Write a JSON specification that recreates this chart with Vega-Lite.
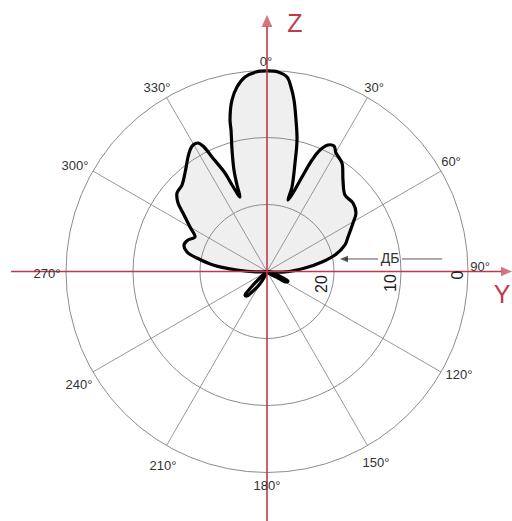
{
  "$schema": "https://vega.github.io/schema/vega-lite/v6.json",
  "width": 490,
  "height": 499,
  "autosize": "none",
  "padding": {"left": 22, "top": 22, "right": 0, "bottom": 0},
  "background": "white",
  "config": {"view": {"stroke": null}},
  "datasets": {
    "pattern": [
      {"g": "main", "i": 1, "u": 0, "v": 0},
      {"g": "main", "i": 2, "u": -1.04, "v": -0.07},
      {"g": "main", "i": 3, "u": -4.48, "v": 0.22},
      {"g": "main", "i": 4, "u": -8.06, "v": 0.97},
      {"g": "main", "i": 5, "u": -10.45, "v": 2.01},
      {"g": "main", "i": 6, "u": -11.94, "v": 2.91},
      {"g": "main", "i": 7, "u": -12.39, "v": 3.96},
      {"g": "main", "i": 8, "u": -11.79, "v": 4.7},
      {"g": "main", "i": 9, "u": -10.75, "v": 5.15},
      {"g": "main", "i": 10, "u": -11.49, "v": 6.64},
      {"g": "main", "i": 11, "u": -12.54, "v": 8.73},
      {"g": "main", "i": 12, "u": -13.28, "v": 10.22},
      {"g": "main", "i": 13, "u": -13.43, "v": 11.72},
      {"g": "main", "i": 14, "u": -12.69, "v": 12.91},
      {"g": "main", "i": 15, "u": -12.24, "v": 14.7},
      {"g": "main", "i": 16, "u": -11.79, "v": 17.09},
      {"g": "main", "i": 17, "u": -11.49, "v": 18.13},
      {"g": "main", "i": 18, "u": -11.04, "v": 18.88},
      {"g": "main", "i": 19, "u": -10.3, "v": 19.18},
      {"g": "main", "i": 20, "u": -9.55, "v": 18.73},
      {"g": "main", "i": 21, "u": -8.21, "v": 17.09},
      {"g": "main", "i": 22, "u": -6.27, "v": 14.7},
      {"g": "main", "i": 23, "u": -5.22, "v": 12.91},
      {"g": "main", "i": 24, "u": -4.03, "v": 11.12},
      {"g": "main", "i": 25, "u": -4.48, "v": 12.91},
      {"g": "main", "i": 26, "u": -4.93, "v": 15.15},
      {"g": "main", "i": 27, "u": -5.22, "v": 18.13},
      {"g": "main", "i": 28, "u": -5.37, "v": 21.12},
      {"g": "main", "i": 29, "u": -5.52, "v": 22.61},
      {"g": "main", "i": 30, "u": -5.22, "v": 25.6},
      {"g": "main", "i": 31, "u": -4.48, "v": 27.54},
      {"g": "main", "i": 32, "u": -3.28, "v": 29.03},
      {"g": "main", "i": 33, "u": -1.64, "v": 29.78},
      {"g": "main", "i": 34, "u": 0, "v": 29.93},
      {"g": "main", "i": 35, "u": 1.64, "v": 29.78},
      {"g": "main", "i": 36, "u": 2.99, "v": 29.03},
      {"g": "main", "i": 37, "u": 3.58, "v": 27.54},
      {"g": "main", "i": 38, "u": 4.03, "v": 25.6},
      {"g": "main", "i": 39, "u": 4.33, "v": 22.61},
      {"g": "main", "i": 40, "u": 4.48, "v": 19.63},
      {"g": "main", "i": 41, "u": 4.18, "v": 16.19},
      {"g": "main", "i": 42, "u": 3.73, "v": 12.61},
      {"g": "main", "i": 43, "u": 3.13, "v": 10.67},
      {"g": "main", "i": 44, "u": 3.88, "v": 11.72},
      {"g": "main", "i": 45, "u": 5.22, "v": 14.1},
      {"g": "main", "i": 46, "u": 6.72, "v": 16.64},
      {"g": "main", "i": 47, "u": 7.91, "v": 18.13},
      {"g": "main", "i": 48, "u": 9.1, "v": 18.88},
      {"g": "main", "i": 49, "u": 10.0, "v": 18.73},
      {"g": "main", "i": 50, "u": 10.3, "v": 17.69},
      {"g": "main", "i": 51, "u": 11.19, "v": 16.19},
      {"g": "main", "i": 52, "u": 11.34, "v": 13.66},
      {"g": "main", "i": 53, "u": 11.64, "v": 11.42},
      {"g": "main", "i": 54, "u": 12.84, "v": 10.22},
      {"g": "main", "i": 55, "u": 13.28, "v": 8.73},
      {"g": "main", "i": 56, "u": 12.84, "v": 7.24},
      {"g": "main", "i": 57, "u": 12.09, "v": 5.15},
      {"g": "main", "i": 58, "u": 11.64, "v": 3.96},
      {"g": "main", "i": 59, "u": 10.15, "v": 2.46},
      {"g": "main", "i": 60, "u": 8.21, "v": 1.42},
      {"g": "main", "i": 61, "u": 5.67, "v": 0.52},
      {"g": "main", "i": 62, "u": 2.69, "v": -0.07},
      {"g": "main", "i": 63, "u": 0, "v": 0},
      {"g": "b1", "i": 1, "u": 0, "v": 0},
      {"g": "b1", "i": 2, "u": -0.75, "v": -0.67},
      {"g": "b1", "i": 3, "u": -1.94, "v": -1.87},
      {"g": "b1", "i": 4, "u": -2.84, "v": -2.91},
      {"g": "b1", "i": 5, "u": -3.28, "v": -3.51},
      {"g": "b1", "i": 6, "u": -2.99, "v": -3.66},
      {"g": "b1", "i": 7, "u": -2.24, "v": -3.06},
      {"g": "b1", "i": 8, "u": -1.19, "v": -2.01},
      {"g": "b1", "i": 9, "u": -0.3, "v": -0.67},
      {"g": "b1", "i": 10, "u": 0, "v": 0},
      {"g": "b2", "i": 1, "u": 0, "v": 0},
      {"g": "b2", "i": 2, "u": 1.19, "v": -0.37},
      {"g": "b2", "i": 3, "u": 2.39, "v": -0.97},
      {"g": "b2", "i": 4, "u": 3.13, "v": -1.42},
      {"g": "b2", "i": 5, "u": 2.84, "v": -1.57},
      {"g": "b2", "i": 6, "u": 1.64, "v": -0.97},
      {"g": "b2", "i": 7, "u": 0.45, "v": -0.37},
      {"g": "b2", "i": 8, "u": 0, "v": 0}
    ],
    "rings": [
      {"u": 0, "v": 0, "r": 10},
      {"u": 0, "v": 0, "r": 20},
      {"u": 0, "v": 0, "r": 30}
    ]
  },
  "encoding": {
    "x": {"field": "u", "type": "quantitative", "scale": {"domain": [-36.567, 36.567], "nice": false, "zero": false}, "axis": null},
    "y": {"field": "v", "type": "quantitative", "scale": {"domain": [-37.239, 37.239], "nice": false, "zero": false}, "axis": null}
  },
  "layer": [
    {
      "data": {"name": "pattern"},
      "mark": {"type": "line", "interpolate": "catmull-rom", "fill": "#efefef", "stroke": null, "strokeWidth": 0},
      "encoding": {"detail": {"field": "g"}, "order": {"field": "i", "type": "quantitative"}}
    },
    {
      "data": {"name": "rings"},
      "transform": [{"filter": "datum.r == 10"}],
      "mark": {"type": "arc", "filled": false, "stroke": "#8c8c8c", "strokeWidth": 1, "theta": 0, "theta2": 6.2832},
      "encoding": {
        "radius": {"field": "r", "type": "quantitative", "scale": {"type": "linear", "domain": [0, 30], "range": [0, 201], "zero": true}, "legend": null}
      }
    },
    {
      "data": {"name": "rings"},
      "transform": [{"filter": "datum.r == 20"}],
      "mark": {"type": "arc", "filled": false, "stroke": "#8c8c8c", "strokeWidth": 1, "theta": 0, "theta2": 6.2832},
      "encoding": {
        "radius": {"field": "r", "type": "quantitative", "scale": {"type": "linear", "domain": [0, 30], "range": [0, 201], "zero": true}, "legend": null}
      }
    },
    {
      "data": {"name": "rings"},
      "transform": [{"filter": "datum.r == 30"}],
      "mark": {"type": "arc", "filled": false, "stroke": "#8c8c8c", "strokeWidth": 1, "theta": 0, "theta2": 6.2832},
      "encoding": {
        "radius": {"field": "r", "type": "quantitative", "scale": {"type": "linear", "domain": [0, 30], "range": [0, 201], "zero": true}, "legend": null}
      }
    },
    {
      "data": {"values": [
        {"u": 0, "v": 0, "u2": 15, "v2": 25.98},
        {"u": 0, "v": 0, "u2": 25.98, "v2": 15},
        {"u": 0, "v": 0, "u2": 25.98, "v2": -15},
        {"u": 0, "v": 0, "u2": 15, "v2": -25.98},
        {"u": 0, "v": 0, "u2": -15, "v2": -25.98},
        {"u": 0, "v": 0, "u2": -25.98, "v2": -15},
        {"u": 0, "v": 0, "u2": -25.98, "v2": 15},
        {"u": 0, "v": 0, "u2": -15, "v2": 25.98}
      ]},
      "mark": {"type": "rule", "stroke": "#8c8c8c", "strokeWidth": 0.9},
      "encoding": {"x2": {"field": "u2"}, "y2": {"field": "v2"}}
    },
    {
      "data": {"name": "pattern"},
      "mark": {"type": "line", "interpolate": "catmull-rom", "stroke": "#000000", "strokeWidth": 3.2, "strokeJoin": "round"},
      "encoding": {"detail": {"field": "g"}, "order": {"field": "i", "type": "quantitative"}}
    },
    {
      "data": {"values": [
        {"u": 11.64, "v": 1.87, "u2": 16.57, "v2": 1.87},
        {"u": 20.15, "v": 1.87, "u2": 26.12, "v2": 1.87}
      ]},
      "mark": {"type": "rule", "stroke": "#555555", "strokeWidth": 1},
      "encoding": {"x2": {"field": "u2"}, "y2": {"field": "v2"}}
    },
    {
      "data": {"values": [{"u": 11.49, "v": 1.87}]},
      "mark": {"type": "point", "shape": "M-1,0L1,-0.8L1,0.8Z", "filled": true, "fill": "#111111", "stroke": null, "size": 64}
    },
    {
      "data": {"values": [
        {"u": 0, "v": 36.6, "u2": 0, "v2": -37.3},
        {"u": -38.2, "v": 0, "u2": 35.0, "v2": 0}
      ]},
      "mark": {"type": "rule", "stroke": "#c0394b", "strokeWidth": 1.6},
      "encoding": {"x2": {"field": "u2"}, "y2": {"field": "v2"}}
    },
    {
      "data": {"values": [{"u": 0, "v": 37.4}]},
      "mark": {"type": "point", "shape": "M0,-1L0.9,1L-0.9,1Z", "filled": true, "fill": "#c0394b", "stroke": null, "size": 144}
    },
    {
      "data": {"values": [{"u": 35.75, "v": 0}]},
      "mark": {"type": "point", "shape": "M1,0L-1,-0.85L-1,0.85Z", "filled": true, "fill": "#c0394b", "stroke": null, "size": 121}
    },
    {
      "data": {"values": [
        {"u": -0.15, "v": 31.27, "t": "0°"},
        {"u": 15.97, "v": 27.39, "t": "30°"},
        {"u": 27.46, "v": 16.34, "t": "60°"},
        {"u": 31.79, "v": 0.67, "t": "90°"},
        {"u": 28.66, "v": -15.45, "t": "120°"},
        {"u": 16.27, "v": -28.58, "t": "150°"},
        {"u": 0, "v": -32.01, "t": "180°"},
        {"u": -15.52, "v": -29.03, "t": "210°"},
        {"u": -28.06, "v": -16.94, "t": "240°"},
        {"u": -32.84, "v": -0.37, "t": "270°"},
        {"u": -28.66, "v": 15.75, "t": "300°"},
        {"u": -16.42, "v": 27.39, "t": "330°"}
      ]},
      "mark": {"type": "text", "align": "center", "baseline": "middle", "font": "Liberation Sans", "fontSize": 13, "fill": "#333333"},
      "encoding": {"text": {"field": "t"}}
    },
    {
      "data": {"values": [
        {"u": 8.21, "v": -1.87, "t": "20"},
        {"u": 18.51, "v": -1.72, "t": "10"},
        {"u": 28.51, "v": -0.52, "t": "0"}
      ]},
      "mark": {"type": "text", "align": "center", "baseline": "middle", "angle": 270, "font": "Liberation Sans", "fontSize": 16, "fill": "#222222"},
      "encoding": {"text": {"field": "t"}}
    },
    {
      "data": {"values": [{"u": 18.36, "v": 1.87, "t": "ДБ"}]},
      "mark": {"type": "text", "align": "center", "baseline": "middle", "font": "Liberation Sans", "fontSize": 14, "fill": "#333333"},
      "encoding": {"text": {"field": "t"}}
    },
    {
      "data": {"values": [
        {"u": 4.18, "v": 36.94, "t": "Z"},
        {"u": 35.07, "v": -3.51, "t": "Y"}
      ]},
      "mark": {"type": "text", "align": "center", "baseline": "middle", "font": "Liberation Sans", "fontSize": 25, "fill": "#c0394b"},
      "encoding": {"text": {"field": "t"}}
    }
  ]
}
